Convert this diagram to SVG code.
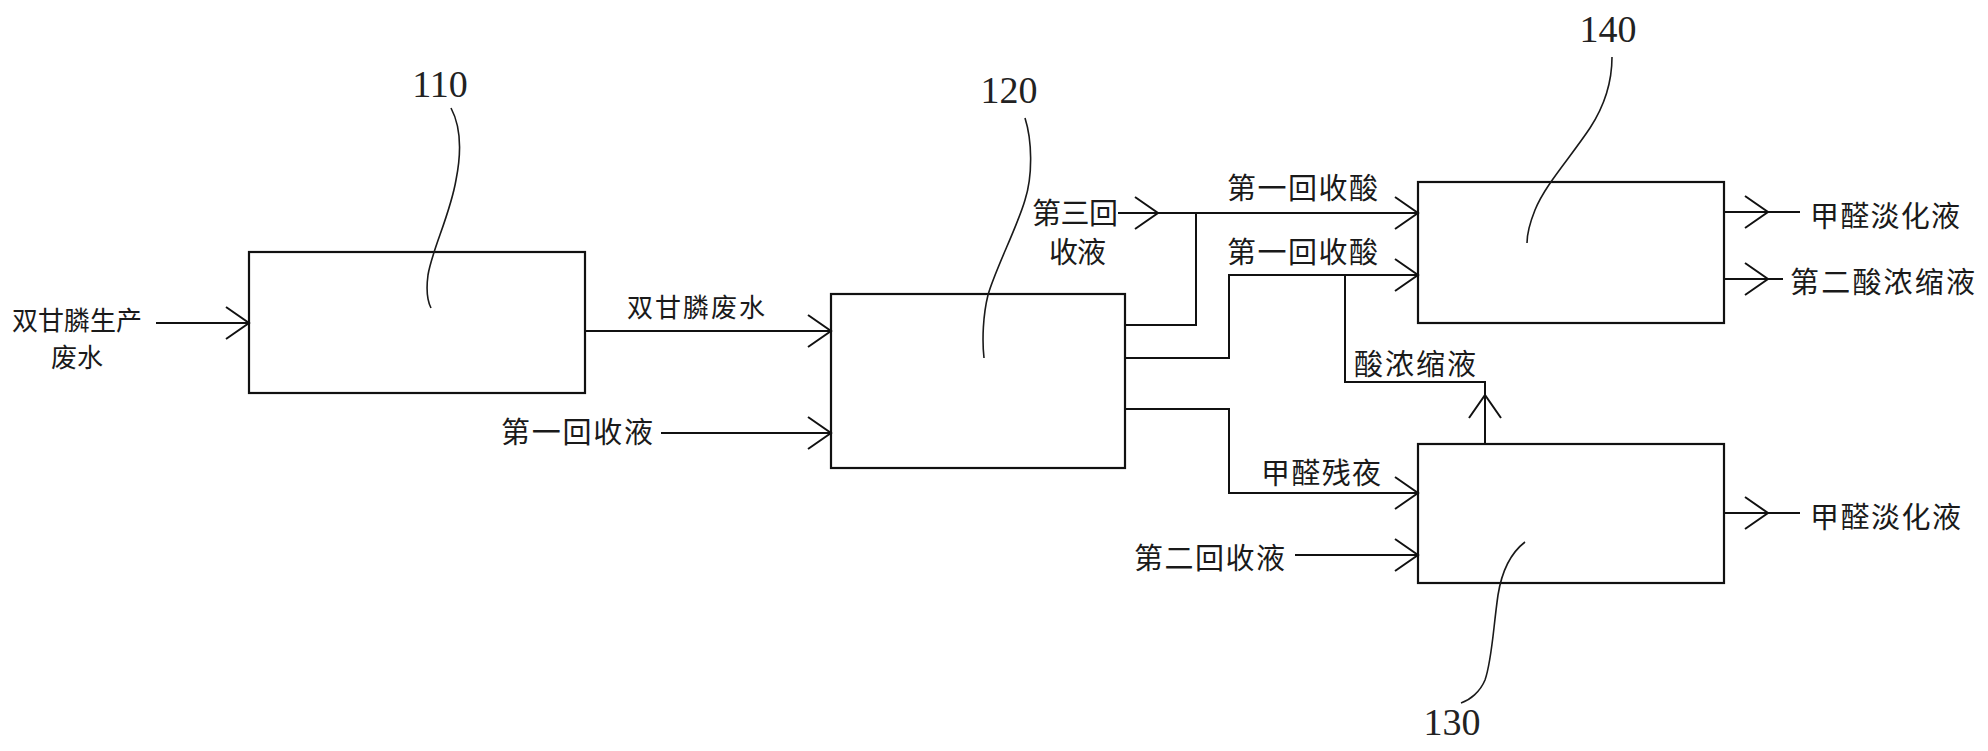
<svg xmlns="http://www.w3.org/2000/svg" width="1988" height="751" viewBox="0 0 1988 751">
<style>
.box{fill:none;stroke:#111;stroke-width:2.2}
.ln{fill:none;stroke:#111;stroke-width:2}
.ar{fill:none;stroke:#111;stroke-width:2;marker-end:url(#chev)}
.ld{fill:none;stroke:#1a1a1a;stroke-width:1.6}
.t{font-family:"Noto Sans CJK SC","Noto Sans",sans-serif;font-size:29px;fill:#1a1a1a}
.ts{font-family:"Noto Sans CJK SC","Noto Sans",sans-serif;font-size:26px;fill:#1a1a1a}
.num{font-family:"Liberation Serif","Times New Roman",serif;font-size:38px;fill:#222;text-anchor:middle}
</style>
<defs>
<marker id="chev" markerUnits="userSpaceOnUse" markerWidth="40" markerHeight="40" viewBox="-30 -20 34 40" refX="0" refY="0" orient="auto">
<path d="M-23,-16 L0,0 L-23,16" fill="none" stroke="#111" stroke-width="2"/>
</marker>
</defs>
<rect width="1988" height="751" fill="#fff"/>

<g id="n110">
<rect class="box" x="249" y="252" width="336" height="141"/>
<text class="num" x="440" y="97">110</text>
<path class="ld" d="M451,108 C460,125 462,150 456,180 C450,215 432,250 428,275 C426,290 428,302 431,308"/>
</g>
<g id="n120">
<rect class="box" x="831" y="294" width="294" height="174"/>
<text class="num" x="1009" y="103">120</text>
<path class="ld" d="M1025,118 C1032,140 1033,175 1025,200 C1018,225 995,270 988,295 C983,315 982,340 984,358"/>
</g>
<g id="n140">
<rect class="box" x="1418" y="182" width="306" height="141"/>
<text class="num" x="1608" y="42">140</text>
<path class="ld" d="M1612,57 C1612,80 1605,105 1590,128 C1570,158 1545,185 1535,210 C1529,225 1527,235 1527,243"/>
</g>
<g id="n130">
<rect class="box" x="1418" y="444" width="306" height="139"/>
<text class="num" x="1452" y="735">130</text>
<path class="ld" d="M1525,542 C1512,552 1502,570 1498,595 C1493,630 1492,660 1485,680 C1480,692 1470,700 1461,703"/>
</g>

<g id="connectors">
<path class="ar" d="M156,323 L249,323"/>
<path class="ar" d="M585,331 L831,331"/>
<path class="ar" d="M661,433 L831,433"/>
<path class="ln" d="M1125,325 L1196,325 L1196,213"/>
<path class="ar" d="M1118,213 L1158,213"/>
<path class="ar" d="M1158,213 L1418,213"/>
<path class="ar" d="M1125,358 L1229,358 L1229,275 L1418,275"/>
<path class="ln" d="M1345,275 L1345,382 L1485,382 L1485,395"/>
<path class="ar" d="M1485,444 L1485,395"/>
<path class="ar" d="M1125,409 L1229,409 L1229,493 L1418,493"/>
<path class="ar" d="M1295,555 L1418,555"/>
<path class="ar" d="M1724,212 L1768,212"/>
<path class="ln" d="M1768,212 L1800,212"/>
<path class="ar" d="M1724,279 L1768,279"/>
<path class="ln" d="M1768,279 L1783,279"/>
<path class="ar" d="M1724,513 L1768,513"/>
<path class="ln" d="M1768,513 L1800,513"/>
</g>

<g id="labels">
<text class="ts" x="12" y="330" textLength="130" lengthAdjust="spacing">双甘膦生产</text>
<text class="ts" x="51" y="367" textLength="52" lengthAdjust="spacing">废水</text>
<text class="ts" x="627" y="317" textLength="138" lengthAdjust="spacing">双甘膦废水</text>
<text class="t" x="501" y="443" textLength="152" lengthAdjust="spacing">第一回收液</text>
<text class="t" x="1032" y="224" textLength="86" lengthAdjust="spacing">第三回</text>
<text class="t" x="1049" y="263" textLength="57" lengthAdjust="spacing">收液</text>
<text class="t" x="1227" y="199" textLength="151" lengthAdjust="spacing">第一回收酸</text>
<text class="t" x="1227" y="263" textLength="151" lengthAdjust="spacing">第一回收酸</text>
<text class="t" x="1354" y="375" textLength="122" lengthAdjust="spacing">酸浓缩液</text>
<text class="t" x="1261" y="484" textLength="120" lengthAdjust="spacing">甲醛残夜</text>
<text class="t" x="1134" y="569" textLength="151" lengthAdjust="spacing">第二回收液</text>
<text class="t" x="1810" y="227" textLength="150" lengthAdjust="spacing">甲醛淡化液</text>
<text class="t" x="1790" y="293" textLength="185" lengthAdjust="spacing">第二酸浓缩液</text>
<text class="t" x="1810" y="528" textLength="151" lengthAdjust="spacing">甲醛淡化液</text>
</g>
</svg>
